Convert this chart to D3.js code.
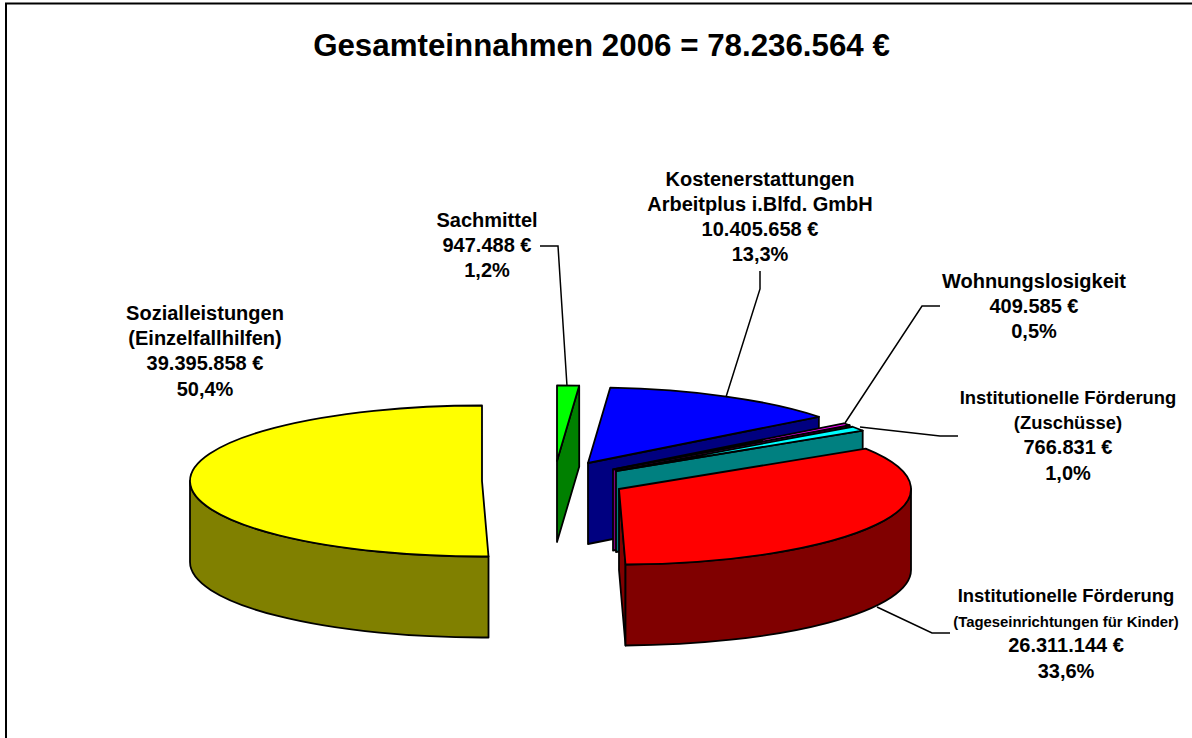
<!DOCTYPE html>
<html>
<head>
<meta charset="utf-8">
<script src="https://cdnjs.cloudflare.com/ajax/libs/d3/7.8.5/d3.min.js"></script>
<style>
  html, body { margin: 0; padding: 0; background: #fff; }
  svg { display: block; font-family: "Liberation Sans", Arial, sans-serif; font-weight: bold; }
</style>
</head>
<body>
<div id="chart"></div>
<script>
// Data
const categories = ["Sachmittel", "Kostenerstattungen", "Wohnungslosigkeit", "Zuschüsse", "Tageseinrichtungen", "Sozialleistungen"];
const amounts = [947488, 10405658, 409585, 766831, 26311144, 39395858];
const amountLabels = ["947.488 €", "10.405.658 €", "409.585 €", "766.831 €", "26.311.144 €", "39.395.858 €"];
const percentLabels = ["1,2%", "13,3%", "0,5%", "1,0%", "33,6%", "50,4%"];
const title = "Gesamteinnahmen 2006 = 78.236.564 €";

// Colours: top face, side wall
const topColors = ["#00ff00", "#0000ff", "#ff00ff", "#00ffff", "#ff0000", "#ffff00"];
const wallColors = ["#008000", "#000080", "#800080", "#008080", "#800000", "#808000"];

// Where the exploded slices sit (tip of each wedge)
const tips = [[557, 461], [588, 463], [613, 469.5], [616, 471], [619, 489], [482, 481]];
const rx = 292, ry = 75.5, depth = 81;

// Label blocks: centre x, first baseline, text and font size of each line
const labelBlocks = [
  { x: 487, y: 227, lines: ["Sachmittel", amountLabels[0], percentLabels[0]], sizes: [20, 20, 20] },
  { x: 760, y: 185.5, lines: ["Kostenerstattungen", "Arbeitplus i.Blfd. GmbH", amountLabels[1], percentLabels[1]], sizes: [20, 20, 20, 20] },
  { x: 1034, y: 288, lines: ["Wohnungslosigkeit", amountLabels[2], percentLabels[2]], sizes: [20, 20, 20] },
  { x: 1068, y: 404, lines: ["Institutionelle Förderung", "(Zuschüsse)", amountLabels[3], percentLabels[3]], sizes: [18.4, 18.4, 20, 20] },
  { x: 1066, y: 602, lines: ["Institutionelle Förderung", "(Tageseinrichtungen für Kinder)", amountLabels[4], percentLabels[4]], sizes: [18.4, 14.9, 20, 20] },
  { x: 205, y: 320, lines: ["Sozialleistungen", "(Einzelfallhilfen)", amountLabels[5], percentLabels[5]], sizes: [20, 20, 20, 20] }
];

const leaders = [
  [[540, 246], [558, 246], [567, 386]],
  [[760, 271], [760, 289], [726, 397]],
  [[940, 306], [922, 306], [845, 423]],
  [[958, 436], [940, 436], [860, 427]],
  [[877, 607], [932, 633], [950, 633]]
];

const W = 1192, H = 738;
const svg = d3.select("#chart").append("svg").attr("width", W).attr("height", H);

// Frame, its right and bottom sides fall outside the picture
svg.append("path")
  .attr("d", `M6,${H}V3.5H${W}`)
  .attr("fill", "none").attr("stroke", "#000").attr("stroke-width", 2);

svg.append("text")
  .attr("x", 601.5).attr("y", 56)
  .attr("text-anchor", "middle").attr("font-size", 31.3)
  .text(title);

// Angles come from d3.pie, starting at 12 o'clock and keeping the table's order
const arcs = d3.pie().sort(null).value(d => d)(amounts);

const px = (tip, a) => tip[0] + rx * Math.sin(a);
const py = (tip, a) => tip[1] - ry * Math.cos(a);
const sweep = (a0, a1) => (a1 - a0 > Math.PI ? 1 : 0);

function topFace(tip, a0, a1) {
  return `M${tip[0]},${tip[1]}L${px(tip, a0)},${py(tip, a0)}` +
    `A${rx},${ry} 0 ${sweep(a0, a1)} 1 ${px(tip, a1)},${py(tip, a1)}Z`;
}

// Outer wall is only seen on the near half of the ellipse
function outerWall(tip, a0, a1) {
  const s = Math.max(a0, Math.PI / 2), e = Math.min(a1, 3 * Math.PI / 2);
  if (e <= s) return null;
  return `M${px(tip, s)},${py(tip, s)}A${rx},${ry} 0 ${sweep(s, e)} 1 ${px(tip, e)},${py(tip, e)}` +
    `V${py(tip, e) + depth}A${rx},${ry} 0 ${sweep(s, e)} 0 ${px(tip, s)},${py(tip, s) + depth}Z`;
}

function radialWall(tip, a) {
  return `M${tip[0]},${tip[1]}L${px(tip, a)},${py(tip, a)}V${py(tip, a) + depth}L${tip[0]},${tip[1] + depth}Z`;
}

const pie = svg.append("g").attr("stroke", "#000").attr("stroke-width", 1.8).attr("stroke-linejoin", "round");

arcs.forEach((d, i) => {
  const tip = tips[i];
  const walls = [];
  // end wall faces the viewer on the right half, start wall on the left half
  if (d.endAngle < Math.PI) walls.push(radialWall(tip, d.endAngle));
  if (d.startAngle > Math.PI) walls.push(radialWall(tip, d.startAngle));
  const outer = outerWall(tip, d.startAngle, d.endAngle);
  if (outer) walls.push(outer);
  walls.forEach(w => pie.append("path").attr("d", w).attr("fill", wallColors[i]));
  pie.append("path").attr("d", topFace(tip, d.startAngle, d.endAngle)).attr("fill", topColors[i]);
});

// Leader lines
const line = d3.line();
svg.append("g").selectAll("path").data(leaders).enter().append("path")
  .attr("d", line).attr("fill", "none").attr("stroke", "#000").attr("stroke-width", 1.5);

// Labels
const lineHeight = 25.2;
labelBlocks.forEach(b => {
  const t = svg.append("text").attr("text-anchor", "middle");
  b.lines.forEach((l, j) => {
    t.append("tspan")
      .attr("x", b.x)
      .attr("y", b.y + j * lineHeight)
      .attr("font-size", b.sizes[j])
      .text(l);
  });
});
</script>
</body>
</html>
